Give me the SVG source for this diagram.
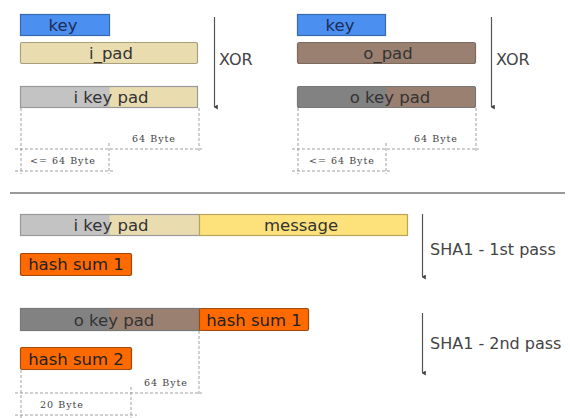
<svg xmlns="http://www.w3.org/2000/svg" width="570" height="418" viewBox="0 0 570 418">
  <defs>
    <style>
      .box { stroke-width: 1.2; }
      .key { fill: #4b8ff0; stroke: #3868b0; }
      .ipad { fill: #e9ddb0; stroke: #a89f7c; }
      .opad { fill: #9a8070; stroke: #7c6a5e; }
      .lgray { fill: #c3c3c3; }
      .dgray { fill: #828282; }
      .msg { fill: #fde27c; stroke: #b8a55a; }
      .hash { fill: #ff6a00; stroke: #a04a10; }
      .frame { fill: none; stroke-width: 1.2; }
      .lbl { font-family: "DejaVu Sans", "Liberation Sans", sans-serif; font-size: 16.5px; fill: #333; text-anchor: middle; }
      .side { font-family: "DejaVu Sans", "Liberation Sans", sans-serif; font-size: 16px; fill: #444; }
      .dim { font-family: "DejaVu Serif", "Liberation Serif", serif; font-size: 9.5px; letter-spacing: 1px; fill: #444; text-anchor: middle; }
      .dash { stroke: #888; stroke-width: 0.8; stroke-dasharray: 3 2; fill: none; }
      .flow { stroke: #555; stroke-width: 1.2; fill: none; marker-end: url(#ah); }
    </style>
    <marker id="ah" viewBox="0 0 6 6" refX="3" refY="5" markerWidth="5" markerHeight="5" orient="auto-start-reverse" markerUnits="userSpaceOnUse">
      <path d="M0,1 L3,6 L6,1 Z" fill="#444"/>
    </marker>
  </defs>

  <!-- inner padding block -->
  <g id="inner-key">
    <rect class="box key" x="20.5" y="14.5" width="89" height="21"/>
    <text class="lbl" x="63" y="30.5" style="fill:#1d2c5a">key</text>
  </g>
  <g id="inner-ipad">
    <rect class="box ipad" x="20.5" y="42.5" width="177" height="21" rx="1.5"/>
    <text class="lbl" x="111" y="58.5">i_pad</text>
  </g>
  <g id="inner-ikeypad">
    <rect class="ipad" x="20.5" y="86.5" width="177" height="21" stroke="none"/>
    <rect class="lgray" x="20.5" y="86.5" width="89" height="21"/>
    <rect class="frame" x="20.5" y="86.5" width="177" height="21" stroke="#999"/>
    <text class="lbl" x="111" y="102.5">i key pad</text>
  </g>

  <!-- outer padding block -->
  <g id="outer-key">
    <rect class="box key" x="297.5" y="14.5" width="88" height="21"/>
    <text class="lbl" x="340" y="30.5" style="fill:#1d2c5a">key</text>
  </g>
  <g id="outer-opad">
    <rect class="box opad" x="297.5" y="42.5" width="178" height="21" rx="2"/>
    <text class="lbl" x="388" y="58.5">o_pad</text>
  </g>
  <g id="outer-okeypad">
    <rect class="opad" x="297.5" y="86.5" width="178" height="21" rx="2" stroke="none"/>
    <rect class="dgray" x="297.5" y="86.5" width="89" height="21"/>
    <rect class="frame" x="297.5" y="86.5" width="178" height="21" rx="2" stroke="#777"/>
    <text class="lbl" x="390" y="102.5">o key pad</text>
  </g>

  <!-- first hash pass -->
  <g id="pass1-ikeypad">
    <rect class="ipad" x="20.5" y="214.5" width="179" height="21" stroke="none"/>
    <rect class="lgray" x="20.5" y="214.5" width="89" height="21"/>
    <rect class="frame" x="20.5" y="214.5" width="179" height="21" stroke="#999"/>
    <text class="lbl" x="111" y="230.5">i key pad</text>
  </g>
  <g id="pass1-message">
    <rect class="box msg" x="199.5" y="214.5" width="208" height="21"/>
    <text class="lbl" x="301" y="230.5">message</text>
  </g>
  <g id="pass1-hash">
    <rect class="box hash" x="20.5" y="253.5" width="111" height="22" rx="1.5"/>
    <text class="lbl" x="76" y="270" style="fill:#222">hash sum 1</text>
  </g>

  <!-- second hash pass -->
  <g id="pass2-okeypad">
    <rect class="opad" x="20.5" y="308.5" width="179" height="22" stroke="none"/>
    <rect class="dgray" x="20.5" y="308.5" width="89" height="22"/>
    <rect class="frame" x="20.5" y="308.5" width="179" height="22" stroke="#777"/>
    <text class="lbl" x="114" y="325.5">o key pad</text>
  </g>
  <g id="pass2-hash1">
    <rect class="box hash" x="199.5" y="308.5" width="109" height="22" rx="1.5"/>
    <text class="lbl" x="254" y="325.5" style="fill:#222">hash sum 1</text>
  </g>
  <g id="pass2-hash2">
    <rect class="box hash" x="20.5" y="347.5" width="111" height="22" rx="1.5"/>
    <text class="lbl" x="76" y="364.5" style="fill:#222">hash sum 2</text>
  </g>

  <!-- separator -->
  <line x1="10" y1="193" x2="565" y2="193" stroke="#777" stroke-width="1.5"/>

  <g id="connectors">
    <!-- XOR flows -->
    <line class="flow" x1="214.5" y1="17" x2="214.5" y2="107"/>
    <text class="side" x="219" y="65">XOR</text>
    <line class="flow" x1="491.5" y1="17" x2="491.5" y2="107"/>
    <text class="side" x="496" y="65">XOR</text>
    <!-- SHA1 flows -->
    <line class="flow" x1="422.5" y1="214" x2="422.5" y2="277"/>
    <text class="side" x="430" y="255">SHA1 - 1st pass</text>
    <line class="flow" x1="422.5" y1="313" x2="422.5" y2="373"/>
    <text class="side" x="430" y="349">SHA1 - 2nd pass</text>
  </g>

  <!-- dimension lines, inner block -->
  <g id="dims-inner">
    <line class="dash" x1="21" y1="108" x2="21" y2="174"/>
    <line class="dash" x1="199" y1="108" x2="199" y2="151"/>
    <line class="dash" x1="15" y1="149" x2="202" y2="149"/>
    <line class="dash" x1="15" y1="171" x2="115" y2="171"/>
    <line class="dash" x1="109" y1="143" x2="109" y2="174"/>
    <text class="dim" x="154" y="142">64 Byte</text>
    <text class="dim" x="63" y="164">&lt;= 64 Byte</text>
  </g>
  <g id="dims-outer">
    <line class="dash" x1="298" y1="108" x2="298" y2="174"/>
    <line class="dash" x1="476" y1="108" x2="476" y2="151"/>
    <line class="dash" x1="292" y1="149" x2="479" y2="149"/>
    <line class="dash" x1="292" y1="171" x2="392" y2="171"/>
    <line class="dash" x1="386" y1="143" x2="386" y2="174"/>
    <text class="dim" x="436" y="142">64 Byte</text>
    <text class="dim" x="342" y="164">&lt;= 64 Byte</text>
  </g>
  <g id="dims-pass2">
    <line class="dash" x1="21" y1="370" x2="21" y2="418"/>
    <line class="dash" x1="199" y1="331" x2="199" y2="395"/>
    <line class="dash" x1="15" y1="393" x2="202" y2="393"/>
    <line class="dash" x1="15" y1="415" x2="137" y2="415"/>
    <line class="dash" x1="131" y1="387" x2="131" y2="418"/>
    <text class="dim" x="166" y="386">64 Byte</text>
    <text class="dim" x="62" y="408">20 Byte</text>
  </g>
</svg>
